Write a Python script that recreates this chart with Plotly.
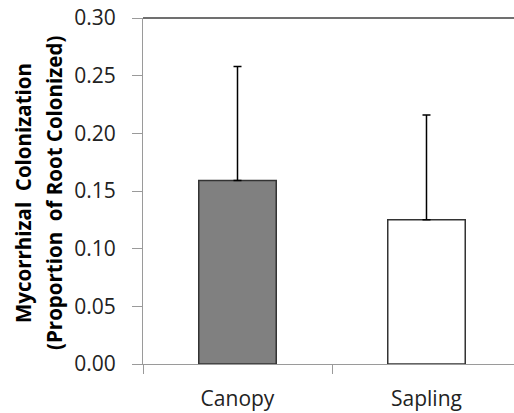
import plotly.graph_objects as go

categories = ["Canopy", "Sapling"]
means = [0.159, 0.125]
errors_plus = [0.099, 0.091]
bar_colors = ["#808080", "#ffffff"]
y_ticks = [0.0, 0.05, 0.10, 0.15, 0.20, 0.25, 0.30]
y_title_lines = ["Mycorrhizal  Colonization", "(Proportion  of Root Colonized)"]

fig = go.Figure()
fig.add_trace(go.Bar(
    x=categories, y=means,
    width=0.41,
    marker=dict(color=bar_colors, line=dict(color="#333333", width=1.5)),
    error_y=dict(type="data", symmetric=False, array=errors_plus,
                 arrayminus=[0, 0], color="#000000", thickness=1.5, width=4),
    showlegend=False,
))

fig.update_layout(
    width=514, height=413,
    margin=dict(l=143, r=0, t=18, b=49),
    paper_bgcolor="white", plot_bgcolor="white",
    font=dict(family="Open Sans", color="#222222"),
    xaxis=dict(
        type="category", range=[-0.5, 1.463],
        showline=True, linecolor="#9a9a9a", linewidth=1.2,
        ticks="outside", tickson="boundaries", ticklen=9, tickcolor="#9a9a9a",
        tickwidth=1.2, showgrid=False, zeroline=False,
        tickfont=dict(size=21, family="Open Sans", color="#222222"),
        ticklabelstandoff=16,
    ),
    yaxis=dict(
        range=[0, 0.30], tickvals=y_ticks, tickformat=".2f",
        showline=True, linecolor="#9a9a9a", linewidth=1.2,
        ticks="outside", ticklen=10, tickcolor="#9a9a9a", tickwidth=1.2,
        showgrid=False, zeroline=False,
        tickfont=dict(size=21, family="Open Sans", color="#222222"),
        ticklabelstandoff=12,
    ),
    shapes=[dict(type="line", xref="paper", yref="paper", x0=0, x1=1, y0=1, y1=1,
                 line=dict(color="#404040", width=1.5))],
)

for i, (txt, xp) in enumerate(zip(y_title_lines, [23, 54])):
    fig.add_annotation(
        text="<b>" + txt + "</b>", textangle=-90,
        xref="paper", yref="paper",
        x=(xp - 143) / (514 - 143), y=(364 - 193) / (364 - 18),
        xanchor="center", yanchor="middle", showarrow=False,
        font=dict(size=20.5, family="Open Sans", color="#000000"),
    )

fig.write_html("out.html")
